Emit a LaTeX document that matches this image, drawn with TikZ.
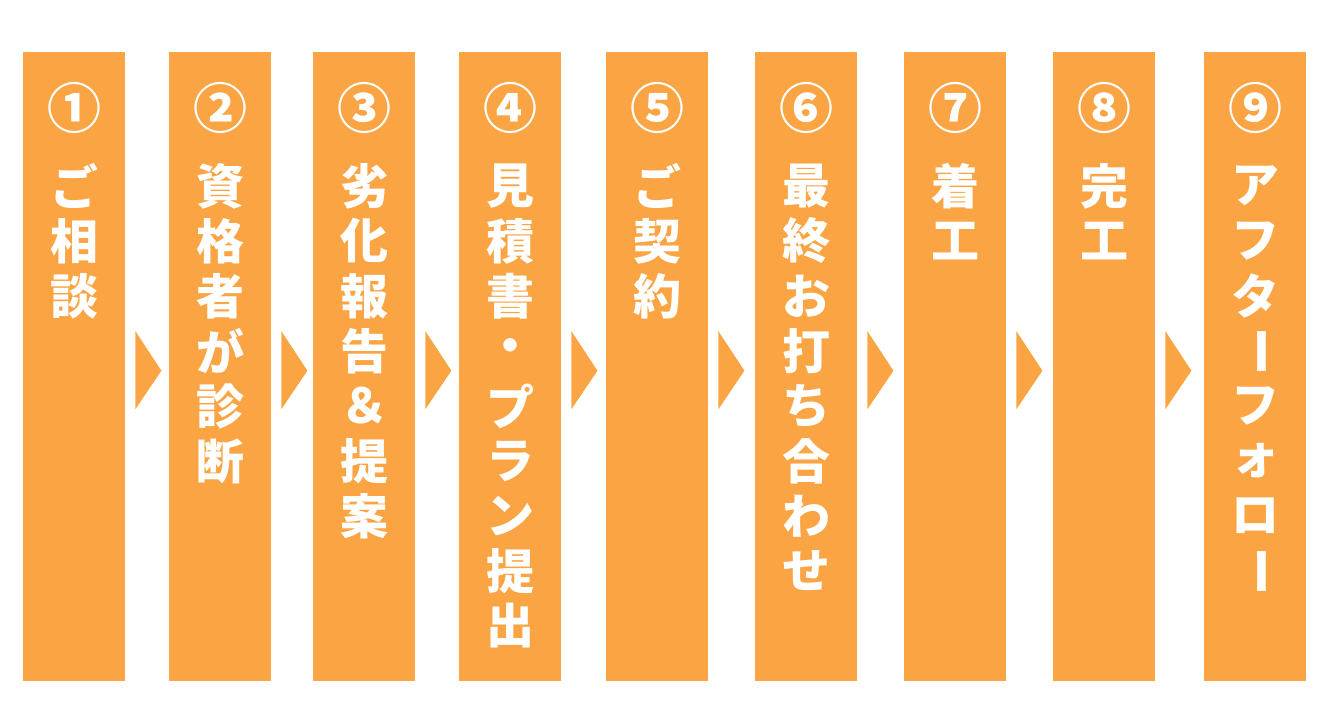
\documentclass[tikz,border=0pt]{standalone}
\usepackage{graphicx}
\usepackage{fontspec}
\newfontfamily\jpfont{Noto Sans CJK JP}
\usetikzlibrary{calc}
\definecolor{flow}{HTML}{FAA443}
\newcommand{\chouon}{\rotatebox{-90}{ー}}

\begin{document}
\begin{tikzpicture}[
        x=1pt, y=-1pt,
        stepbar/.style={rectangle, fill=flow, minimum width=102pt, minimum height=629pt, inner sep=0pt},
        num/.style={text=white, inner sep=0pt, font=\jpfont\bfseries\fontsize{54}{54}\selectfont},
        glyph/.style={text=white, inner sep=0pt, font=\jpfont\bfseries\fontsize{48}{48}\selectfont},
        pointer/.style={fill=flow}
    ]
    \useasboundingbox (0,0) rectangle (1344,727);

    % Steps
    \foreach \i/\xl/\n/\txt in {
        1/23/①/{ご,相,談},
        2/169/②/{資,格,者,が,診,断},
        3/313/③/{劣,化,報,告,＆,提,案},
        4/459/④/{見,積,書,・,プ,ラ,ン,提,出},
        5/606/⑤/{ご,契,約},
        6/755/⑥/{最,終,お,打,ち,合,わ,せ},
        7/904/⑦/{着,工},
        8/1053/⑧/{完,工},
        9/1204/⑨/{ア,フ,タ,\chouon,フ,ォ,ロ,\chouon}} {
        \node[stepbar, anchor=north west] at (\xl,52) (bar\i) {};
        \node[num] at ($(bar\i.north)+(0,56)$) (num\i) {\n};
        \foreach \c [count=\k] in \txt {
            \node[glyph] at ($(bar\i.north)+(0,134+55*\k-55)$) (c\i-\k) {\c};
        }
    }

    % Arrows
    \foreach \i in {1,...,8} {
        \fill[pointer] ($(bar\i.east)+(10,-35.5)$) -- ($(bar\i.east)+(36,4)$) -- ($(bar\i.east)+(10,42.5)$) -- cycle;
    }
\end{tikzpicture}
\end{document}
